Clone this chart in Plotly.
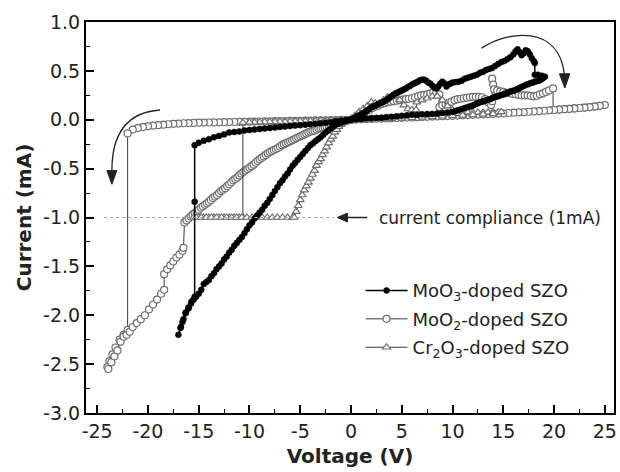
import plotly.graph_objects as go

# ---------------- data ----------------
# MoO3-doped SZO (black filled circles), listed in sweep order
moo3_neg_hrs_v = [0, -0.5, -1, -1.5, -2, -2.5, -3, -3.5, -4, -4.5, -5, -5.5, -6, -6.5, -7, -7.5, -8, -8.5,
                  -9, -9.5, -10, -10.5, -11, -11.5, -12, -12.5, -13, -13.5, -14, -14.5, -15, -15.4]
moo3_neg_hrs_i = [0, -0.005, -0.01, -0.015, -0.025, -0.03, -0.035, -0.04, -0.045, -0.05, -0.055, -0.06, -0.065,
                  -0.07, -0.075, -0.08, -0.085, -0.09, -0.095, -0.10, -0.105, -0.11, -0.12, -0.125, -0.13,
                  -0.15, -0.165, -0.18, -0.20, -0.215, -0.235, -0.26]
moo3_set_v = [-15.4, -15.4, -15.7, -16.0, -16.3, -16.6, -16.8, -17.0]
moo3_set_i = [-0.84, -1.81, -1.86, -1.92, -1.98, -2.07, -2.13, -2.20]
moo3_neg_lrs_v = [-16.75, -16.5, -16.25, -16.0, -15.75, -15.5, -15.25, -15.0, -14.75, -14.5, -14.25, -14.0,
                  -13.75, -13.5, -13.25, -13.0, -12.75, -12.5, -12.25, -12.0, -11.75, -11.5, -11.25, -11.0,
                  -10.75, -10.5, -10.25, -10.0, -9.75, -9.5, -9.25, -9.0, -8.75, -8.5, -8.25, -8.0, -7.75,
                  -7.5, -7.25, -7.0, -6.75, -6.5, -6.25, -6.0, -5.75, -5.5, -5.25, -5.0, -4.75, -4.5, -4.25,
                  -4.0, -3.75, -3.5, -3.25, -3.0, -2.75, -2.5, -2.25, -2.0, -1.75, -1.5, -1.25, -1.0, -0.75,
                  -0.5, -0.25, 0]
moo3_neg_lrs_i = [-2.12, -2.04, -1.97, -1.93, -1.88, -1.84, -1.81, -1.78, -1.74, -1.68, -1.66, -1.64, -1.60,
                  -1.57, -1.53, -1.50, -1.47, -1.43, -1.40, -1.36, -1.33, -1.29, -1.26, -1.23, -1.20, -1.16,
                  -1.12, -1.08, -1.05, -1.01, -0.98, -0.95, -0.92, -0.88, -0.85, -0.81, -0.77, -0.73, -0.69,
                  -0.65, -0.62, -0.58, -0.55, -0.51, -0.47, -0.44, -0.41, -0.38, -0.35, -0.32, -0.29, -0.26,
                  -0.24, -0.22, -0.20, -0.18, -0.155, -0.13, -0.11, -0.09, -0.07, -0.05, -0.04, -0.03, -0.02,
                  -0.01, -0.005, 0]
moo3_pos_lrs_v = [0.2, 0.4, 0.6, 0.8, 1.0, 1.2, 1.4, 1.6, 1.8, 2.0, 2.2, 2.4, 2.6, 2.8, 3.0, 3.2, 3.4, 3.6,
                  3.8, 4.0, 4.2, 4.4, 4.6, 4.8, 5.0, 5.2, 5.4, 5.6, 5.8, 6.0, 6.2, 6.4, 6.6, 6.8, 7.0, 7.2,
                  7.4, 7.6, 7.8, 8.0, 8.2, 8.4, 8.6, 8.8, 9.0, 9.2, 9.4, 9.6, 9.8, 10.0, 10.3, 10.6, 10.9,
                  11.2, 11.5, 11.8, 12.1, 12.4, 12.7, 13.0, 13.3, 13.6, 13.9, 14.2, 14.5, 14.8, 15.1, 15.4,
                  15.7, 16.0, 16.2, 16.4, 16.6, 16.8, 17.0, 17.2, 17.4, 17.6, 17.8, 18.0, 18.1]
moo3_pos_lrs_i = [0.01, 0.02, 0.035, 0.045, 0.055, 0.07, 0.08, 0.095, 0.11, 0.125, 0.135, 0.145, 0.155, 0.165,
                  0.175, 0.185, 0.195, 0.21, 0.225, 0.24, 0.255, 0.27, 0.28, 0.29, 0.30, 0.31, 0.32, 0.335,
                  0.345, 0.36, 0.37, 0.38, 0.39, 0.405, 0.41, 0.41, 0.40, 0.38, 0.37, 0.35, 0.33, 0.32, 0.34,
                  0.37, 0.39, 0.37, 0.34, 0.36, 0.37, 0.38, 0.385, 0.39, 0.40, 0.42, 0.43, 0.44, 0.45, 0.46,
                  0.48, 0.49, 0.51, 0.52, 0.53, 0.55, 0.57, 0.59, 0.60, 0.62, 0.64, 0.67, 0.70, 0.72, 0.69,
                  0.66, 0.68, 0.71, 0.70, 0.67, 0.63, 0.60, 0.58]
moo3_reset_v = [18.1, 18.4, 18.8, 19.1]
moo3_reset_i = [0.46, 0.46, 0.45, 0.44]
moo3_pos_hrs_v = [18.9, 18.7, 18.5, 18.3, 18.1, 17.9, 17.7, 17.5, 17.3, 17.1, 16.9, 16.7, 16.5, 16.3, 16.1,
                  15.9, 15.7, 15.5, 15.3, 15.1, 14.9, 14.7, 14.5, 14.3, 14.1, 13.9, 13.7, 13.5, 13.3, 13.1,
                  12.9, 12.7, 12.5, 12.3, 12.1, 11.9, 11.7, 11.5, 11.2, 10.9, 10.6, 10.3, 10.0, 9.5, 9.0,
                  8.5, 8.0, 7.5, 7.0, 6.5, 6.0, 5.5, 5.0, 4.5, 4.0, 3.5, 3.0, 2.5, 2.0, 1.5, 1.0, 0.5, 0]
moo3_pos_hrs_i = [0.425, 0.41, 0.40, 0.395, 0.39, 0.38, 0.375, 0.365, 0.36, 0.35, 0.34, 0.33, 0.32, 0.31, 0.30,
                  0.295, 0.29, 0.28, 0.27, 0.26, 0.255, 0.25, 0.24, 0.235, 0.23, 0.22, 0.21, 0.205, 0.20,
                  0.19, 0.185, 0.18, 0.17, 0.16, 0.15, 0.14, 0.135, 0.13, 0.12, 0.11, 0.10, 0.09, 0.08,
                  0.075, 0.07, 0.065, 0.06, 0.058, 0.055, 0.052, 0.05, 0.045, 0.04, 0.035, 0.03, 0.025,
                  0.02, 0.018, 0.015, 0.012, 0.008, 0.004, 0]

# MoO2-doped SZO (grey open circles)
moo2_neg_hrs_v = [0, -0.5, -1, -1.5, -2, -2.5, -3, -3.5, -4, -4.5, -5, -5.5, -6, -6.5, -7, -7.5, -8, -8.5,
                  -9, -9.5, -10, -10.5, -11, -11.5, -12, -12.5, -13, -13.5, -14, -14.5, -15, -15.5, -16,
                  -16.5, -17, -17.5, -18, -18.5, -19, -19.5, -20, -20.5, -21, -21.5, -22]
moo2_neg_hrs_i = [0, -0.001, -0.002, -0.003, -0.004, -0.005, -0.006, -0.007, -0.008, -0.009, -0.01, -0.011,
                  -0.012, -0.013, -0.014, -0.015, -0.016, -0.017, -0.018, -0.019, -0.02, -0.021, -0.022,
                  -0.023, -0.024, -0.025, -0.026, -0.027, -0.028, -0.029, -0.03, -0.032, -0.034, -0.036,
                  -0.039, -0.042, -0.046, -0.05, -0.055, -0.06, -0.067, -0.075, -0.085, -0.10, -0.14]
moo2_set_v = [-22.0, -22.4, -22.8, -23.2, -23.5, -23.8, -24.0]
moo2_set_i = [-2.15, -2.20, -2.25, -2.33, -2.40, -2.47, -2.53]
moo2_neg_lrs_v = [-23.9, -23.6, -23.3, -23.0, -22.7, -22.4, -22.1, -21.8, -21.5, -21.1, -20.7, -20.3, -19.9,
                  -19.5, -19.1, -18.7, -18.4, -18.4, -18.1, -17.8, -17.5, -17.2, -16.9, -16.6, -16.5]
moo2_neg_lrs_i = [-2.55, -2.48, -2.42, -2.36, -2.27, -2.22, -2.20, -2.17, -2.12, -2.08, -2.04, -2.00, -1.94,
                  -1.89, -1.84, -1.78, -1.74, -1.58, -1.53, -1.49, -1.45, -1.41, -1.38, -1.34, -1.31]
moo2_diag_v = [-16.4, -16.2, -16.0, -15.8, -15.6, -15.4, -15.2, -15.0, -14.8, -14.6, -14.4, -14.2, -14.0,
               -13.8, -13.6, -13.4, -13.2, -13.0, -12.8, -12.6, -12.4, -12.2, -12.0, -11.8, -11.6, -11.4,
               -11.2, -11.0, -10.8, -10.6, -10.4, -10.2, -10.0, -9.8, -9.6, -9.4, -9.2, -9.0, -8.8, -8.6,
               -8.4, -8.2, -8.0, -7.8, -7.6, -7.4, -7.2, -7.0, -6.8, -6.6, -6.4, -6.2, -6.0, -5.8, -5.6,
               -5.4, -5.2, -5.0, -4.8, -4.6, -4.4, -4.2, -4.0, -3.8, -3.6, -3.4, -3.2, -3.0, -2.8, -2.6,
               -2.4, -2.2, -2.0, -1.8, -1.6, -1.4, -1.2, -1.0, -0.8, -0.6, -0.4, -0.2, 0]
moo2_diag_i = [-1.05, -1.03, -1.01, -0.99, -0.97, -0.955, -0.94, -0.92, -0.90, -0.885, -0.87, -0.855, -0.84,
               -0.82, -0.80, -0.785, -0.77, -0.75, -0.73, -0.715, -0.70, -0.68, -0.66, -0.64, -0.62, -0.605,
               -0.59, -0.57, -0.55, -0.535, -0.52, -0.505, -0.49, -0.475, -0.46, -0.44, -0.42, -0.405,
               -0.39, -0.375, -0.36, -0.345, -0.33, -0.32, -0.31, -0.30, -0.29, -0.275, -0.26, -0.25,
               -0.24, -0.23, -0.22, -0.21, -0.20, -0.19, -0.18, -0.17, -0.16, -0.15, -0.14, -0.13, -0.12,
               -0.115, -0.11, -0.10, -0.09, -0.085, -0.08, -0.075, -0.07, -0.062, -0.055, -0.048, -0.04,
               -0.035, -0.03, -0.025, -0.02, -0.015, -0.01, -0.005, 0]
moo2_pos_lrs_v = [0.3, 0.6, 0.9, 1.2, 1.5, 1.8, 2.1, 2.4, 2.7, 3.0, 3.3, 3.6, 3.9, 4.2, 4.5, 4.8, 5.1, 5.4,
                  5.7, 6.0, 6.3, 6.6, 6.9, 7.2, 7.5, 7.8, 8.1, 8.4, 8.7, 8.7, 9.0, 9.3, 9.6, 9.9, 10.2,
                  10.5, 10.8, 11.1, 11.4, 11.7, 12.0, 12.3, 12.6, 12.9, 13.2, 13.5, 13.8, 13.9, 13.9, 14.0,
                  14.1, 14.4, 14.7, 15.0, 15.3, 15.6, 15.9, 16.2, 16.5, 16.8, 17.1, 17.4, 17.7, 18.0, 18.3,
                  18.6, 18.9, 19.2, 19.5, 19.9]
moo2_pos_lrs_i = [0.02, 0.04, 0.055, 0.07, 0.09, 0.10, 0.12, 0.135, 0.145, 0.16, 0.17, 0.18, 0.185, 0.19,
                  0.195, 0.20, 0.205, 0.21, 0.215, 0.22, 0.23, 0.24, 0.25, 0.255, 0.26, 0.27, 0.28, 0.275,
                  0.26, 0.13, 0.15, 0.16, 0.17, 0.185, 0.20, 0.21, 0.215, 0.22, 0.225, 0.23, 0.235, 0.235,
                  0.235, 0.23, 0.21, 0.18, 0.15, 0.19, 0.42, 0.36, 0.31, 0.30, 0.29, 0.285, 0.275, 0.27,
                  0.265, 0.26, 0.255, 0.25, 0.25, 0.25, 0.245, 0.24, 0.245, 0.26, 0.27, 0.285, 0.30, 0.32]
moo2_pos_hrs_v = [19.9, 20.5, 21.0, 21.5, 22.0, 22.5, 23.0, 23.5, 24.0, 24.5, 25.0,
                  24.5, 24.0, 23.5, 23.0, 22.5, 22.0, 21.5, 21.0, 20.5, 20.0, 19.5, 19.0, 18.5, 18.0, 17.5,
                  17.0, 16.5, 16.0, 15.5, 15.0, 14.5, 14.0, 13.5, 13.0, 12.5, 12.0, 11.5, 11.0, 10.5, 10.0,
                  9.5, 9.0, 8.5, 8.0, 7.5, 7.0, 6.5, 6.0, 5.5, 5.0, 4.5, 4.0, 3.5, 3.0, 2.5, 2.0, 1.5, 1.0,
                  0.5, 0]
moo2_pos_hrs_i = [0.10, 0.104, 0.108, 0.112, 0.116, 0.12, 0.125, 0.13, 0.135, 0.142, 0.15,
                  0.142, 0.135, 0.13, 0.125, 0.12, 0.116, 0.112, 0.108, 0.104, 0.10, 0.096, 0.092, 0.088,
                  0.085, 0.082, 0.078, 0.075, 0.072, 0.069, 0.066, 0.063, 0.06, 0.058, 0.055, 0.053, 0.05,
                  0.048, 0.045, 0.043, 0.04, 0.038, 0.036, 0.034, 0.032, 0.03, 0.028, 0.026, 0.024, 0.022,
                  0.02, 0.018, 0.016, 0.014, 0.012, 0.01, 0.008, 0.006, 0.004, 0.002, 0]

# Cr2O3-doped SZO (grey open triangles)
cr2o3_neg_hrs_v = [0, -0.5, -1, -1.5, -2, -2.5, -3, -3.5, -4, -4.5, -5, -5.5, -6, -6.5, -7, -7.5, -8, -8.5,
                   -9, -9.5, -10, -10.65]
cr2o3_neg_hrs_i = [0, -0.002, -0.003, -0.005, -0.006, -0.008, -0.01, -0.011, -0.012, -0.013, -0.015, -0.016,
                   -0.017, -0.018, -0.02, -0.021, -0.022, -0.023, -0.025, -0.026, -0.027, -0.03]
cr2o3_comp_v = [-10.65, -11.0, -11.5, -12.0, -12.5, -13.0, -13.5, -14.0, -14.5, -15.0, -15.5, -15.25, -14.75,
                -14.25, -13.75, -13.25, -12.75, -12.25, -11.75, -11.25, -10.75, -10.25, -9.75, -9.25, -8.75,
                -8.25, -7.75, -7.25, -6.75, -6.25, -5.75, -5.6]
cr2o3_comp_i = [-1.0, -1.0, -1.0, -1.0, -1.0, -1.0, -1.0, -1.0, -1.0, -1.0, -1.0, -1.0, -1.0,
                -1.0, -1.0, -1.0, -1.0, -1.0, -1.0, -1.0, -1.0, -1.0, -1.0, -1.0, -1.0, -1.0,
                -1.0, -1.0, -1.0, -1.0, -1.0, -1.0]
cr2o3_neg_lrs_v = [-5.4, -5.2, -5.0, -4.8, -4.6, -4.4, -4.2, -4.0, -3.8, -3.6, -3.4, -3.2, -3.0, -2.8, -2.6,
                   -2.4, -2.2, -2.0, -1.8, -1.6, -1.4, -1.2, -1.0, -0.8, -0.6, -0.4, -0.2, 0]
cr2o3_neg_lrs_i = [-0.94, -0.88, -0.82, -0.77, -0.72, -0.68, -0.64, -0.60, -0.56, -0.52, -0.47, -0.43, -0.40,
                   -0.36, -0.32, -0.28, -0.24, -0.20, -0.17, -0.13, -0.10, -0.07, -0.05, -0.035, -0.02,
                   -0.01, -0.005, 0]
cr2o3_pos_v = [0.4, 0.8, 1.2, 1.6, 2.0, 2.4, 2.8, 3.2, 3.6, 4.0, 4.4, 4.8, 5.2, 5.6, 6.0, 6.4, 6.5, 7.0, 7.5,
               8.0, 8.5, 9.0, 9.5, 10.0, 10.5, 11.0, 11.5, 12.0, 12.5, 13.0, 13.5, 14.0, 14.5, 14.8,
               14.0, 13.0, 12.0, 11.0, 10.0, 9.0, 8.0, 7.0, 6.0, 5.0, 4.0, 3.0, 2.0, 1.0, 0]
cr2o3_pos_i = [0.04, 0.08, 0.11, 0.14, 0.18, 0.17, 0.17, 0.20, 0.23, 0.24, 0.25, 0.20, 0.15, 0.11, 0.10,
               0.10, 0.18, 0.20, 0.22, 0.24, 0.24, 0.20, 0.14, 0.10, 0.09, 0.08, 0.078, 0.075, 0.075, 0.075,
               0.076, 0.077, 0.078, 0.08,
               0.06, 0.055, 0.05, 0.045, 0.04, 0.035, 0.03, 0.025, 0.02, 0.015, 0.01, 0.008, 0.005,
               0.002, 0]

# axis ticks / labels
x_tickvals = [-25, -20, -15, -10, -5, 0, 5, 10, 15, 20, 25]
x_ticktext = ["-25", "-20", "-15", "-10", "-5", "0", "5", "10", "15", "20", "25"]
y_tickvals = [-3.0, -2.5, -2.0, -1.5, -1.0, -0.5, 0.0, 0.5, 1.0]
y_ticktext = ["-3.0", "-2.5", "-2.0", "-1.5", "-1.0", "-0.5", "0.0", "0.5", "1.0"]

# ---------------- assemble series in sweep order ----------------
moo3_v = moo3_neg_hrs_v + moo3_set_v + moo3_neg_lrs_v + moo3_pos_lrs_v + moo3_reset_v + moo3_pos_hrs_v
moo3_i = moo3_neg_hrs_i + moo3_set_i + moo3_neg_lrs_i + moo3_pos_lrs_i + moo3_reset_i + moo3_pos_hrs_i
moo2_v = moo2_neg_hrs_v + moo2_set_v + moo2_neg_lrs_v + moo2_diag_v + moo2_pos_lrs_v + moo2_pos_hrs_v
moo2_i = moo2_neg_hrs_i + moo2_set_i + moo2_neg_lrs_i + moo2_diag_i + moo2_pos_lrs_i + moo2_pos_hrs_i
cr_v = cr2o3_neg_hrs_v + cr2o3_comp_v + cr2o3_neg_lrs_v + cr2o3_pos_v
cr_i = cr2o3_neg_hrs_i + cr2o3_comp_i + cr2o3_neg_lrs_i + cr2o3_pos_i

FONT = "DejaVu Sans"
GREY = "#6f6f6f"
INK = "#222222"

fig = go.Figure()
fig.add_trace(go.Scatter(
    x=moo2_v, y=moo2_i, mode="lines+markers", name="MoO<sub>2</sub>-doped SZO",
    legendrank=2, legendgroup="b",
    line=dict(color="#3a3a3a", width=1),
    marker=dict(symbol="circle", size=7, color="white", line=dict(color=GREY, width=1.2))))
fig.add_trace(go.Scatter(
    x=cr_v, y=cr_i, mode="lines+markers", name="Cr<sub>2</sub>O<sub>3</sub>-doped SZO",
    legendrank=3, legendgroup="c",
    line=dict(color="#3a3a3a", width=1),
    marker=dict(symbol="triangle-up", size=7, color="white", line=dict(color=GREY, width=1.2))))
fig.add_trace(go.Scatter(
    x=moo3_v, y=moo3_i, mode="lines+markers", name="MoO<sub>3</sub>-doped SZO",
    legendrank=1, legendgroup="a",
    line=dict(color="black", width=1.5),
    marker=dict(symbol="circle", size=6, color="black", line=dict(color="black", width=0.5))))

# compliance guide line, arrow and label
fig.add_shape(type="line", xref="x", yref="y", x0=-24.3, x1=-1.7, y0=-1.0, y1=-1.0,
              line=dict(color="#a0a0a0", width=1, dash="dot"))
fig.add_shape(type="line", xref="x", yref="y", x0=-0.6, x1=1.6, y0=-1.0, y1=-1.0,
              line=dict(color=INK, width=1.5))
fig.add_shape(type="path", xref="x", yref="y",
              path="M -1.35,-1.0 L -0.35,-0.955 L -0.35,-1.045 Z",
              fillcolor=INK, line=dict(color=INK, width=1))
fig.add_annotation(x=2.6, y=-1.0, xref="x", yref="y", text="current compliance (1mA)", showarrow=False,
                   xanchor="left", yanchor="middle", font=dict(family=FONT, size=17, color=INK))

# curved sweep-direction arrows
fig.add_shape(type="path", xref="x", yref="y",
              path="M -18.82,0.10 C -21.69,0.079 -23.55,-0.105 -23.55,-0.52",
              line=dict(color=INK, width=1.3))
fig.add_shape(type="path", xref="x", yref="y",
              path="M -24.04,-0.52 L -23.06,-0.52 L -23.55,-0.66 Z",
              fillcolor=INK, line=dict(color=INK, width=1))
fig.add_shape(type="path", xref="x", yref="y",
              path="M 12.85,0.731 C 15.53,0.918 20.42,0.969 21.01,0.47",
              line=dict(color=INK, width=1.3))
fig.add_shape(type="path", xref="x", yref="y",
              path="M 20.52,0.47 L 21.55,0.47 L 21.06,0.325 Z",
              fillcolor=INK, line=dict(color=INK, width=1))

axis_common = dict(showline=True, linecolor="black", linewidth=2, mirror=True, ticks="inside",
                   ticklen=8, tickwidth=1.5, tickcolor="black", showgrid=False, zeroline=False,
                   tickfont=dict(family=FONT, size=19, color=INK))
fig.update_xaxes(range=[-26.1, 25.9], tickmode="array", tickvals=x_tickvals, ticktext=x_ticktext,
                 minor=dict(ticks="inside", ticklen=4, tickwidth=1.2, tickcolor="black", dtick=2.5, tick0=0),
                 title=dict(text="<b>Voltage (V)</b>", font=dict(family=FONT, size=20, color=INK),
                            standoff=8),
                 **axis_common)
fig.update_yaxes(range=[-3.0, 1.0], tickmode="array", tickvals=y_tickvals, ticktext=y_ticktext,
                 minor=dict(ticks="inside", ticklen=4, tickwidth=1.2, tickcolor="black", dtick=0.25, tick0=0),
                 title=dict(text="<b>Current (mA)</b>", font=dict(family=FONT, size=20, color=INK),
                            standoff=6),
                 **axis_common)

fig.update_layout(
    width=620, height=472, margin=dict(l=86, r=3, t=22, b=59),
    plot_bgcolor="white", paper_bgcolor="white",
    font=dict(family=FONT, color=INK),
    legend=dict(x=0.52, y=0.36, xanchor="left", yanchor="top", bgcolor="rgba(0,0,0,0)",
                font=dict(family=FONT, size=18, color=INK), tracegroupgap=2, itemwidth=42),
)

fig.write_html("out.html")
